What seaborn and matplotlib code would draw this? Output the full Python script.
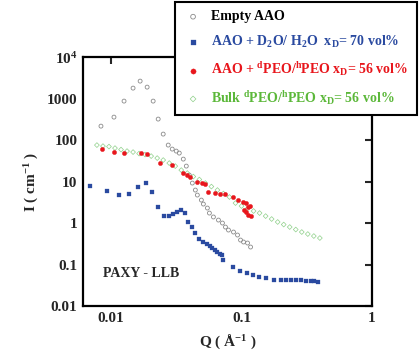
import matplotlib
matplotlib.use("Agg")
import matplotlib.pyplot as plt
import seaborn as sns
import pandas as pd

# data (Q in 1/A, I in 1/cm)
q_empty = [0.00838, 0.01054, 0.01259, 0.01476, 0.01672, 0.01892, 0.02104, 0.02299, 0.02512,
           0.02745, 0.02946, 0.03162, 0.03336, 0.0358, 0.03775, 0.03981, 0.04199, 0.04428,
           0.04587, 0.04924, 0.05102, 0.05476, 0.05674, 0.0609, 0.06657, 0.07141, 0.07531,
           0.07943, 0.0868, 0.09316, 0.09825, 0.1036, 0.1112, 0.1173]
i_empty = [217, 358, 871, 1791, 2642, 1893, 871, 321, 139.5,
           75.8, 60.7, 54.3, 48.6, 34.8, 23.6, 14.3, 9.2, 6.24,
           4.73, 3.58, 2.87, 2.3, 1.74, 1.4, 1.18, 1.0, 0.8,
           0.678, 0.607, 0.514, 0.389, 0.349, 0.33, 0.264]

q_d2o = [0.0069, 0.0093, 0.0115, 0.0138, 0.0161, 0.0186, 0.0207, 0.023, 0.0256, 0.0279,
         0.03, 0.0322, 0.0346, 0.0371, 0.0391, 0.042, 0.0443, 0.0475, 0.051, 0.0548,
         0.0577, 0.0598, 0.0625, 0.0654, 0.068, 0.0714, 0.0727, 0.0853, 0.0965, 0.111,
         0.1215, 0.135, 0.153, 0.176, 0.2, 0.22, 0.238, 0.26, 0.284, 0.31, 0.34, 0.36, 0.384]
i_d2o = [7.8, 5.9, 4.7, 5.0, 7.4, 9.2, 5.6, 2.4, 1.47, 1.47,
         1.65, 1.84, 2.06, 1.74, 1.06, 0.8, 0.57, 0.41, 0.35, 0.31,
         0.28, 0.25, 0.22, 0.2, 0.18, 0.17, 0.128, 0.087, 0.07, 0.062,
         0.056, 0.05, 0.047, 0.042, 0.043, 0.043, 0.043, 0.042, 0.042, 0.041, 0.04, 0.04, 0.038]

q_peo = [0.00853, 0.01054, 0.01259, 0.01701, 0.01892, 0.02381, 0.02946, 0.0358, 0.03843,
         0.04054, 0.04587, 0.05012, 0.05284, 0.05575, 0.0631, 0.06896, 0.07531, 0.0853,
         0.09316, 0.1018, 0.1074, 0.1112, 0.1152, 0.1074, 0.1173, 0.1036, 0.1112]
i_peo = [60.7, 51.4, 48.6, 48.6, 46.0, 27.9, 25.0, 16.0, 14.3,
         12.8, 9.73, 9.2, 8.71, 5.58, 5.28, 5.0, 5.0, 4.24,
         3.58, 3.21, 3.03, 2.43, 2.57, 1.84, 1.47, 2.06, 1.56]

q_bulk = [0.0078, 0.00868, 0.00965, 0.01073, 0.01194, 0.01327, 0.01476, 0.01642, 0.01826,
          0.02031, 0.02259, 0.02512, 0.02794, 0.03107, 0.03455, 0.03843, 0.04274, 0.04753,
          0.05284, 0.05878, 0.06538, 0.07268, 0.08083, 0.0899, 0.1, 0.1112, 0.1237, 0.1375,
          0.153, 0.1701, 0.1892, 0.2104, 0.234, 0.2602, 0.2894, 0.3219, 0.358, 0.3981]
i_bulk = [75.8, 71.6, 69.7, 64.1, 59.0, 54.3, 51.4, 47.3, 44.8,
          41.1, 36.8, 33.0, 27.9, 23.6, 18.9, 16.0, 13.2, 11.2,
          9.2, 7.58, 6.24, 5.14, 4.24, 3.03, 2.57, 2.24, 1.95, 1.74,
          1.47, 1.25, 1.06, 0.92, 0.801, 0.697, 0.607, 0.543, 0.486, 0.435]

labels = ['Empty AAO',
          r'AAO + D$_2$O/ H$_2$O  x$_D$= 70 vol%',
          r'AAO + $^d$PEO/$^h$PEO x$_D$= 56 vol%',
          r'Bulk $^d$PEO/$^h$PEO x$_D$= 56 vol%']
text_colors = ['black', '#2a4aa0', '#e8161c', '#5cb83a']

y_ticks = [0.01, 0.1, 1, 10, 100, 1000, 10000]
y_tick_labels = ['0.01', '0.1', '1', '10', '100', '1000', r'10$^4$']
x_ticks = [0.01, 0.1, 1]
x_tick_labels = ['0.01', '0.1', '1']

sns.set_style('white')
plt.rcParams['font.family'] = ['Liberation Serif', 'DejaVu Serif']
plt.rcParams['font.weight'] = 'bold'
plt.rcParams['mathtext.fontset'] = 'custom'
plt.rcParams['mathtext.rm'] = 'Liberation Serif:bold'
plt.rcParams['mathtext.it'] = 'Liberation Serif:bold'
plt.rcParams['mathtext.bf'] = 'Liberation Serif:bold'

fig = plt.figure(figsize=(4.19, 3.54), dpi=100)
ax = fig.add_axes([0.198, 0.1356, 0.690, 0.703])

sns.scatterplot(x=q_empty, y=i_empty, ax=ax, marker='o', s=8, facecolors='none',
                edgecolor='#8a8a8a', linewidth=0.6, label=labels[0])
sns.scatterplot(x=q_d2o, y=i_d2o, ax=ax, marker='s', s=9, color='#2a4aa0',
                edgecolor='#2a4aa0', linewidth=0.2, label=labels[1])
sns.scatterplot(x=q_bulk, y=i_bulk, ax=ax, marker='D', s=6, facecolors='none',
                edgecolor='#8fd08a', linewidth=0.5, label=labels[3])
sns.scatterplot(x=q_peo, y=i_peo, ax=ax, marker='o', s=10, color='#e8161c',
                edgecolor='#e8161c', linewidth=0.2, label=labels[2])

ax.set_xscale('log')
ax.set_yscale('log')
ax.set_xlim(0.0061, 1)
ax.set_ylim(0.01, 10000)
ax.set_xticks(x_ticks)
ax.set_xticklabels(x_tick_labels)
ax.set_yticks(y_ticks)
ax.set_yticklabels(y_tick_labels)
ax.minorticks_off()
ax.tick_params(direction='in', length=5, width=1.5, top=True, right=True,
               labelsize=11, pad=4)
for sp in ax.spines.values():
    sp.set_linewidth(1.6)
    sp.set_color('black')
ax.set_xlabel(r'Q ( $\mathrm{\AA}^{-1}$ )', fontsize=11, fontweight='bold', labelpad=6)
ax.set_ylabel(r'I ( cm$^{-1}$ )', fontsize=11, fontweight='bold', labelpad=4)
ax.text(0.07, 0.115, 'PAXY - LLB', transform=ax.transAxes, fontsize=10, fontweight='bold')

handles, labs = ax.get_legend_handles_labels()
ax.get_legend().remove()
order = [labs.index(l) for l in labels]
leg = fig.legend([handles[i] for i in order], labels, loc='upper left',
                 bbox_to_anchor=(175 / 419, 1 - 2 / 354), bbox_transform=fig.transFigure,
                 borderaxespad=0, fancybox=False, framealpha=1, edgecolor='black',
                 fontsize=10, handletextpad=0.6, labelspacing=0.75, borderpad=0.6,
                 markerscale=1.2, handlelength=1.4)
leg.get_frame().set_linewidth(1.5)
for t, c in zip(leg.get_texts(), text_colors):
    t.set_color(c)

fig.savefig('out.png', dpi=100)
